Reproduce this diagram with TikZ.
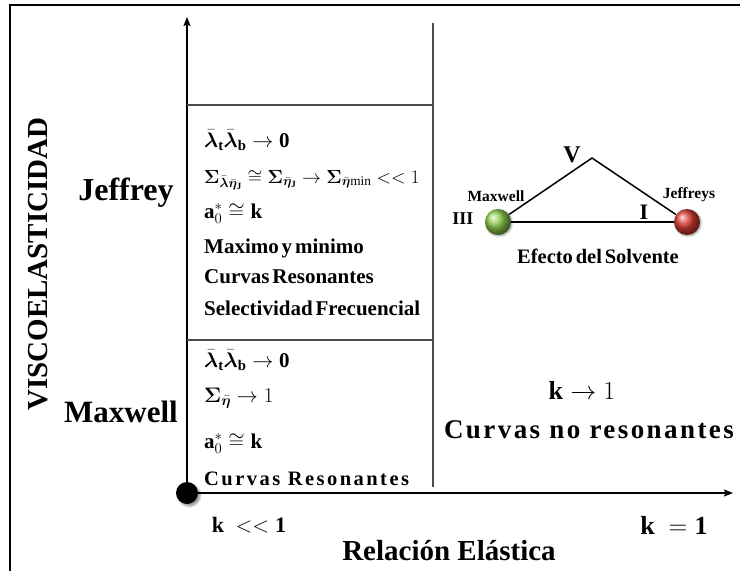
\RequirePackage{fix-cm}
\documentclass[tikz,border=0pt]{standalone}
\usepackage{amsmath,amssymb,bm}
\usepackage{fontspec}
\setmainfont{Liberation Serif}
\newfontfamily\tight[WordSpace=0.55]{Liberation Serif}
\newfontfamily\spaced[LetterSpace=9]{Liberation Serif}
\newfontfamily\spacedrow[LetterSpace=12]{Liberation Serif}
\usetikzlibrary{arrows.meta,positioning,shadows.blur}

\definecolor{ballgreen}{RGB}{146,208,80}
\definecolor{ballred}{RGB}{220,62,52}

\begin{document}
\begin{tikzpicture}[x=1pt, y=-1pt,
  axis/.style={-{Stealth[length=9pt, width=7pt, inset=1.5pt]}, line width=1.5pt},
  sep/.style={draw=black!70, line width=1.2pt},
  row/.style={anchor=base west, inner sep=0pt, font=\fontsize{21}{23}\selectfont\tight\bfseries},
  big/.style={anchor=base, inner sep=0pt, font=\fontsize{32}{34}\selectfont\bfseries},
  mid/.style={inner sep=0pt, font=\fontsize{26}{28}\selectfont\bfseries},
  small/.style={inner sep=0pt, font=\fontsize{15.5}{17}\selectfont\bfseries},
  ball/.style={circle, minimum size=26pt, inner sep=0pt, blur shadow={shadow blur steps=5, shadow xshift=1pt, shadow yshift=-1pt}},
]
\useasboundingbox (0,0) rectangle (740,571);

%% frame
\draw[line width=2pt] (10,571) -- (10,5) -- (740,5);

%% axes
\node[circle, fill=black, minimum size=22pt, inner sep=0pt,
  blur shadow={shadow blur steps=5}] (origin) at (187,493) {};
\coordinate (ytip) at (187,17);
\coordinate (xtip) at (733,493);
\draw[axis] (origin.center) -- (ytip);
\draw[axis] (origin.center) -- (xtip);

%% separators
\coordinate (vtop) at (433,23);
\coordinate (vbot) at (433,487);
\draw[sep] (vtop) -- (vbot);
\draw[sep] (187,105) -- (433,105);
\draw[sep] (187,340) -- (433,340);

%% axis labels
\node[mid, rotate=90, font=\fontsize{29}{31}\selectfont\bfseries] (visco) at (38,264) {VISCOELASTICIDAD};
\node[big] (jeffrey) at (126,200) {Jeffrey};
\node[big, font=\fontsize{31}{33}\selectfont\bfseries] (maxwell) at (121,422) {Maxwell};
\node[mid, font=\fontsize{29}{31}\selectfont\bfseries] (relacion) at (449,551) {Relación Elástica};
\node[mid, font=\fontsize{22}{24}\selectfont\bfseries] (kmin) at (249,525) {$\mathbf{k}\ <<\mathbf{1}$};
\node[mid] (kone) at (674,525) {$\mathbf{k}\ =\mathbf{1}$};

%% Jeffrey region
\node[row] (j1) at (204,147) {$\bar{\bm\lambda}_{\mathbf t}\bar{\bm\lambda}_{\mathbf b}\to\mathbf 0$};
\node[row, font=\fontsize{19}{21}\selectfont\bfseries] (j2) at (204,183) {$\bm\Sigma_{\bar{\bm\lambda}\bar{\bm\eta}_{\mathbf J}}\cong\bm\Sigma_{\bar{\bm\eta}_{\mathbf J}}\to\bm\Sigma_{\bar{\bm\eta}\mathrm{min}}<<1$};
\node[row] (j3) at (204,218) {$\mathbf a_0^*\cong\mathbf k$};
\node[row] (j4) at (204,253) {Maximo y minimo};
\node[row] (j5) at (204,283) {Curvas Resonantes};
\node[row] (j6) at (204,315) {Selectividad Frecuencial};

%% Maxwell region
\node[row] (m1) at (204,367) {$\bar{\bm\lambda}_{\mathbf t}\bar{\bm\lambda}_{\mathbf b}\to\mathbf 0$};
\node[row] (m2) at (204,402) {$\bm\Sigma_{\bar{\bm\eta}}\to1$};
\node[row] (m3) at (204,448) {$\mathbf a_0^*\cong\mathbf k$};
\node[row, font=\fontsize{20.5}{22}\selectfont\spacedrow\bfseries] (m4) at (204,485) {Curvas Resonantes};

%% k = 1 region
\node[mid] (klim) at (582,390) {$\mathbf{k}\to1$};
\node[mid, font=\fontsize{27}{29}\selectfont\spaced\bfseries] (noreso) at (589,430) {Curvas no resonantes};

%% solvent triangle
\node[ball, ball color=ballgreen] (mx) at (498,222) {};
\node[ball, ball color=ballred] (jf) at (687,222) {};
\coordinate (apex) at (592,158);
\draw[line width=1.5pt] (mx) -- (apex) -- (jf);
\draw[line width=1.5pt] (mx) -- (jf);
\node[mid, font=\fontsize{24}{26}\selectfont\bfseries] (vlab) at (572,155) {V};
\node[mid, font=\fontsize{22}{24}\selectfont\bfseries] (ilab) at (644,212) {I};
\node[mid, font=\fontsize{18}{20}\selectfont\bfseries] (iiilab) at (463,219) {III};
\node[small] (mxlab) at (496,196) {Maxwell};
\node[small] (jflab) at (689,195) {Jeffreys};
\node[mid, font=\fontsize{20.5}{22}\selectfont\tight\bfseries] (solv) at (598,256) {Efecto del Solvente};

\end{tikzpicture}
\end{document}
